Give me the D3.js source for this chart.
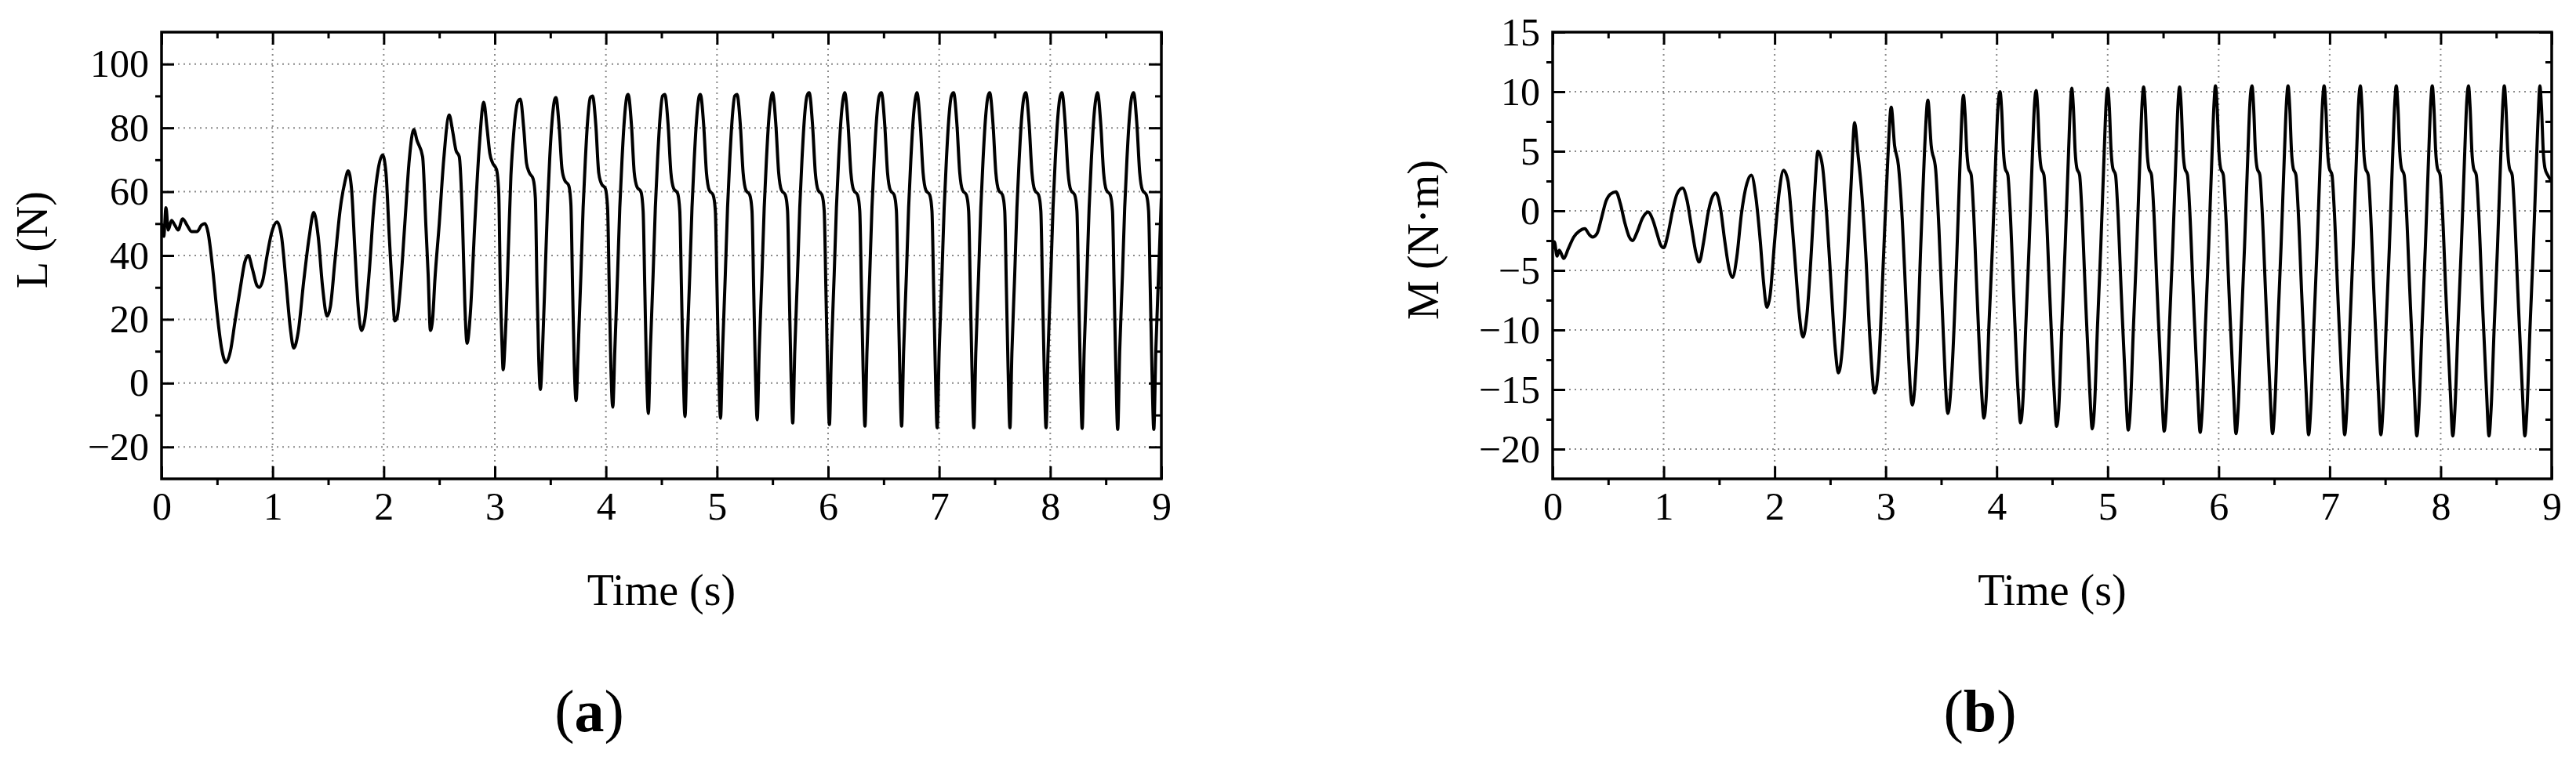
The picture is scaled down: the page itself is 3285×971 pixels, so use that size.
<!DOCTYPE html>
<html>
<head>
<meta charset="utf-8">
<script src="https://cdn.jsdelivr.net/npm/d3@7"></script>
<style>
html, body { margin: 0; padding: 0; background: #fff; }
svg text { font-family: "Liberation Serif", "Times New Roman", serif; fill: #000; }
</style>
</head>
<body>
<div id="figure"></div>
<script>
// axis ticks
var timeTicks = [0, 1, 2, 3, 4, 5, 6, 7, 8, 9];
var timeMinor = [0.5, 1.5, 2.5, 3.5, 4.5, 5.5, 6.5, 7.5, 8.5];
var liftTicks = [-20, 0, 20, 40, 60, 80, 100];
var liftMinor = [-10, 10, 30, 50, 70, 90];
var momentTicks = [-20, -15, -10, -5, 0, 5, 10, 15];
var momentMinor = [-17.5, -12.5, -7.5, -2.5, 2.5, 7.5, 12.5];

// (a) lift L (N) vs time (s)
var liftSeries = [
  [0.00,50],[0.02,46],[0.04,55],[0.06,48],[0.09,51],[0.12,49.5],[0.15,48],[0.19,51.5],[0.23,49.5],[0.27,47.5],
  [0.32,47.5],[0.36,49.5],[0.39,50],[0.42,47],[0.46,36],[0.50,22],[0.54,11],[0.58,6.5],[0.62,10],[0.66,19],
  [0.71,30],[0.75,38],[0.78,40],[0.82,35.5],[0.86,30.5],[0.88,30],[0.91,32],[0.95,40],[0.99,47],[1.04,50.5],
  [1.08,46],[1.12,32],[1.16,17],[1.19,11],[1.23,16],[1.28,32],[1.33,46],[1.37,53.5],[1.41,46],[1.45,30],
  [1.49,21],[1.52,24],[1.56,38],[1.61,55],[1.65,63],[1.68,66.5],[1.71,61],[1.74,42],[1.77,24],[1.80,16.5],
  [1.83,20],[1.87,35],[1.91,55],[1.95,67],[1.99,71.5],[2.02,66],[2.05,46],[2.08,28],[2.10,19.5],[2.12,20.5],
  [2.15,30],[2.19,50],[2.23,70],[2.27,79.5],[2.30,76],[2.35,71],[2.38,49],[2.40,34],[2.42,16.5],[2.44,20],
  [2.46,32],[2.50,50],[2.54,70],[2.59,84],[2.62,79],[2.65,73],[2.68,71],[2.71,50],[2.73,25],[2.75,12.5],
  [2.78,22],[2.82,50],[2.86,74],
  [2.900,88],[2.930,80],[2.955,72],[2.980,69],[3.015,67],[3.035,60],[3.050,30],[3.065,12],[3.075,4.2],[3.095,15],[3.125,45],[3.145,65],[3.165,76],[3.185,84],[3.210,88.5],
  [3.230,89],[3.260,80],[3.285,69],[3.310,66],[3.345,64],[3.365,58],[3.380,30],[3.395,8],[3.410,-2],[3.430,11],[3.455,36],[3.475,56],[3.495,71],[3.515,82],[3.540,89],
  [3.550,89.5],[3.580,80],[3.605,67],[3.630,63.5],[3.665,62],[3.685,56],[3.700,30],[3.715,6],[3.732,-5.5],[3.750,10],[3.775,34],[3.795,55],[3.815,70],[3.835,82],[3.860,89.5],
  [3.880,90],[3.910,80.5],[3.935,66],[3.960,62.5],[3.995,61],[4.015,55],[4.030,30],[4.045,5],[4.062,-7.5],[4.080,10],[4.105,34],[4.125,55],[4.145,70],[4.165,82],[4.190,90],
  [4.200,90.5],[4.230,81],[4.255,66],[4.280,61.5],[4.315,60],[4.335,54],[4.350,30],[4.365,5],[4.382,-9.5],[4.400,10],[4.425,34],[4.445,55],[4.465,70],[4.485,82],[4.510,90],
  [4.530,90.5],[4.560,81],[4.585,66],[4.610,61],[4.645,59.5],[4.665,54],[4.680,30],[4.695,5],[4.712,-10.5],[4.730,10],[4.755,34],[4.775,55],[4.795,70],[4.815,82],[4.840,90],
  [4.850,90.5],[4.880,81],[4.905,66],[4.930,60.5],[4.965,59],[4.985,54],[5.000,30],[5.015,5],[5.032,-11],[5.050,10],[5.075,34],[5.095,55],[5.115,70],[5.135,82],[5.160,90],
  [5.180,90.5],[5.210,81],[5.235,66],[5.260,60.5],[5.295,59],[5.315,54],[5.330,30],[5.345,5],[5.362,-11.5],[5.380,10],[5.405,34],[5.425,55],[5.445,70],[5.465,82],[5.490,90],
  [5.500,91],[5.530,81],[5.555,66],[5.580,60.5],[5.615,59],[5.635,54],[5.650,30],[5.665,5],[5.682,-12.5],[5.700,10],[5.725,34],[5.745,55],[5.765,70],[5.785,82],[5.810,90],
  [5.830,91],[5.860,81],[5.885,66],[5.910,60.5],[5.945,59],[5.965,54],[5.980,30],[5.995,5],[6.012,-13],[6.030,10],[6.055,34],[6.075,55],[6.095,70],[6.115,82],[6.140,90],
  [6.150,91],[6.180,81],[6.205,66],[6.230,60.5],[6.265,59],[6.285,54],[6.300,30],[6.315,5],[6.332,-13.5],[6.350,10],[6.375,34],[6.395,55],[6.415,70],[6.435,82],[6.460,90],
  [6.480,91],[6.510,81],[6.535,66],[6.560,60.5],[6.595,59],[6.615,54],[6.630,30],[6.645,5],[6.662,-13.5],[6.680,10],[6.705,34],[6.725,55],[6.745,70],[6.765,82],[6.790,90],
  [6.800,91],[6.830,81],[6.855,66],[6.880,60.5],[6.915,59],[6.935,54],[6.950,30],[6.965,5],[6.982,-14],[7.000,10],[7.025,34],[7.045,55],[7.065,70],[7.085,82],[7.110,90],
  [7.130,91],[7.160,81],[7.185,66],[7.210,60.5],[7.245,59],[7.265,54],[7.280,30],[7.295,5],[7.312,-14],[7.330,10],[7.355,34],[7.375,55],[7.395,70],[7.415,82],[7.440,90],
  [7.455,91],[7.485,81],[7.510,66],[7.535,60.5],[7.570,59],[7.590,54],[7.605,30],[7.620,5],[7.637,-14],[7.655,10],[7.680,34],[7.700,55],[7.720,70],[7.740,82],[7.765,90],
  [7.780,91],[7.810,81],[7.835,66],[7.860,60.5],[7.895,59],[7.915,54],[7.930,30],[7.945,5],[7.962,-14],[7.980,10],[8.005,34],[8.025,55],[8.045,70],[8.065,82],[8.090,90],
  [8.105,91],[8.135,81],[8.160,66],[8.185,60.5],[8.220,59],[8.240,54],[8.255,30],[8.270,5],[8.287,-14.2],[8.305,10],[8.330,34],[8.350,55],[8.370,70],[8.390,82],[8.415,90],
  [8.425,91],[8.455,81],[8.480,66],[8.505,60.5],[8.540,59],[8.560,54],[8.575,30],[8.590,5],[8.607,-14.5],[8.625,10],[8.650,34],[8.670,55],[8.690,70],[8.710,82],[8.735,90],
  [8.750,91],[8.780,81],[8.805,66],[8.830,60.5],[8.865,59],[8.885,54],[8.900,30],[8.915,5],[8.932,-14.5],[8.950,10],[8.975,34],[9.000,58]
];

// (b) moment M (N·m) vs time (s)
var momentSeries = [
  [0.00,-3.2],[0.015,-2.6],[0.04,-3.8],[0.06,-3.3],[0.10,-4.0],[0.14,-3.2],[0.19,-2.2],[0.24,-1.7],[0.29,-1.5],[0.33,-2.0],
  [0.36,-2.2],[0.40,-1.9],[0.44,-0.6],[0.48,0.8],[0.52,1.4],[0.57,1.6],[0.61,0.6],[0.65,-1.0],[0.69,-2.2],[0.72,-2.5],
  [0.76,-1.8],[0.81,-0.6],[0.86,-0.1],[0.90,-0.7],[0.94,-1.9],[0.97,-2.8],[1.00,-3.1],[1.04,-1.9],[1.08,0.0],[1.12,1.4],
  [1.17,1.9],[1.21,0.9],[1.25,-1.3],[1.29,-3.5],[1.32,-4.3],[1.36,-2.6],[1.40,-0.2],[1.44,1.2],[1.47,1.5],[1.51,0.3],
  [1.55,-2.5],[1.59,-4.9],[1.62,-5.6],[1.66,-3.8],[1.70,-0.3],[1.75,2.3],[1.79,3.0],[1.83,1.2],[1.87,-2.5],[1.90,-6.0],
  [1.93,-8.1],[1.96,-7.0],[2.00,-2.5],[2.04,1.5],[2.08,3.4],[2.12,2.5],[2.15,-0.3],[2.19,-5.0],[2.22,-8.5],[2.255,-10.6],
  [2.29,-8.8],[2.33,-3.5],[2.36,1.5],[2.39,5.0],[2.43,3.8],[2.47,-0.5],[2.51,-6.5],[2.545,-11.5],[2.575,-13.6],[2.61,-11.5],
  [2.65,-5.0],[2.69,2.5],[2.72,7.4],[2.75,4.8],[2.78,2.0],[2.82,-3.5],[2.86,-11.0],[2.90,-15.3],[2.94,-12.5],[2.98,-4.0],
  [3.02,4.5],[3.05,8.7],[3.08,5.5],[3.115,3.8],[3.15,-0.8],[3.19,-9.0],[3.24,-16.3],[3.28,-12.0],[3.32,-2.0],[3.35,5.0],
  [3.38,9.3],[3.41,5.5],[3.45,3.5],[3.48,-1.5],[3.52,-10.5],[3.56,-17.0],[3.60,-13.0],[3.64,-4.0],[3.67,4.0],
  [3.700,9.7],[3.715,8.2],[3.731,5.0],[3.746,3.6],[3.771,3.0],[3.790,0.3],[3.823,-7],[3.863,-15],[3.885,-17.4],[3.905,-15.8],[3.931,-9.5],[3.962,-3],[3.993,4.8],[4.010,8.5],
  [4.030,10.0],[4.045,8.5],[4.061,5.0],[4.076,3.6],[4.101,3.0],[4.120,0.3],[4.153,-7],[4.193,-15.2],[4.215,-17.8],[4.235,-16.2],[4.261,-10],[4.292,-3],[4.323,5],[4.340,8.8],
  [4.355,10.1],[4.370,8.6],[4.386,5.0],[4.401,3.6],[4.426,3.0],[4.445,0.3],[4.478,-7],[4.518,-15.2],[4.540,-18.1],[4.560,-16.5],[4.586,-10],[4.617,-3],[4.648,5],[4.665,9],
  [4.676,10.3],[4.691,8.7],[4.707,5.0],[4.722,3.6],[4.747,3.0],[4.766,0.3],[4.799,-7],[4.839,-15.2],[4.861,-18.3],[4.881,-16.5],[4.907,-10],[4.938,-3],[4.969,5],[4.986,9],
  [5.000,10.3],[5.015,8.7],[5.031,5.0],[5.046,3.6],[5.071,3.0],[5.090,0.3],[5.123,-7],[5.163,-15.2],[5.185,-18.4],[5.205,-16.5],[5.231,-10],[5.262,-3],[5.293,5],[5.310,9],
  [5.324,10.4],[5.339,8.7],[5.355,5.0],[5.370,3.6],[5.395,3.0],[5.414,0.3],[5.447,-7],[5.487,-15.2],[5.509,-18.5],[5.529,-16.5],[5.555,-10],[5.586,-3],[5.617,5],[5.634,9],
  [5.648,10.4],[5.663,8.7],[5.679,5.0],[5.694,3.6],[5.719,3.0],[5.738,0.3],[5.771,-7],[5.811,-15.2],[5.833,-18.6],[5.853,-16.5],[5.879,-10],[5.910,-3],[5.941,5],[5.958,9],
  [5.971,10.5],[5.986,8.7],[6.002,5.0],[6.017,3.6],[6.042,3.0],[6.061,0.3],[6.094,-7],[6.134,-15.2],[6.156,-18.7],[6.176,-16.5],[6.202,-10],[6.233,-3],[6.264,5],[6.281,9],
  [6.300,10.5],[6.315,8.7],[6.331,5.0],[6.346,3.6],[6.371,3.0],[6.390,0.3],[6.423,-7],[6.463,-15.2],[6.485,-18.7],[6.505,-16.5],[6.531,-10],[6.562,-3],[6.593,5],[6.610,9],
  [6.625,10.5],[6.640,8.7],[6.656,5.0],[6.671,3.6],[6.696,3.0],[6.715,0.3],[6.748,-7],[6.788,-15.2],[6.810,-18.8],[6.830,-16.5],[6.856,-10],[6.887,-3],[6.918,5],[6.935,9],
  [6.950,10.5],[6.965,8.7],[6.981,5.0],[6.996,3.6],[7.021,3.0],[7.040,0.3],[7.073,-7],[7.113,-15.2],[7.135,-18.8],[7.155,-16.5],[7.181,-10],[7.212,-3],[7.243,5],[7.260,9],
  [7.276,10.5],[7.291,8.7],[7.307,5.0],[7.322,3.6],[7.347,3.0],[7.366,0.3],[7.399,-7],[7.439,-15.2],[7.461,-18.8],[7.481,-16.5],[7.507,-10],[7.538,-3],[7.569,5],[7.586,9],
  [7.600,10.5],[7.615,8.7],[7.631,5.0],[7.646,3.6],[7.671,3.0],[7.690,0.3],[7.723,-7],[7.763,-15.2],[7.785,-18.9],[7.805,-16.5],[7.831,-10],[7.862,-3],[7.893,5],[7.910,9],
  [7.924,10.5],[7.939,8.7],[7.955,5.0],[7.970,3.6],[7.995,3.0],[8.014,0.3],[8.047,-7],[8.087,-15.2],[8.109,-18.9],[8.129,-16.5],[8.155,-10],[8.186,-3],[8.217,5],[8.234,9],
  [8.250,10.5],[8.265,8.7],[8.281,5.0],[8.296,3.6],[8.321,3.0],[8.340,0.3],[8.373,-7],[8.413,-15.2],[8.435,-18.9],[8.455,-16.5],[8.481,-10],[8.512,-3],[8.543,5],[8.560,9],
  [8.573,10.5],[8.588,8.7],[8.604,5.0],[8.619,3.6],[8.644,3.0],[8.663,0.3],[8.696,-7],[8.736,-15.2],[8.758,-18.9],[8.778,-16.5],[8.804,-10],[8.835,-3],[8.866,5],[8.883,9],
  [8.893,10.5],[8.908,8.7],[8.924,5.0],[8.939,3.6],[8.964,3.0],[9.000,2.5]
];

var width = 3285;
var height = 971;
var plotTop = 41;
var plotBottom = 611;

var svg = d3.select('#figure')
    .append('svg')
    .attr('width', width)
    .attr('height', height);

svg.append('rect')
    .attr('width', width)
    .attr('height', height)
    .attr('fill', '#fff');

function drawPanel(opts) {
    var x = d3.scaleLinear().domain([0, 9]).range([opts.left, opts.right]);
    var y = d3.scaleLinear().domain(opts.yDomain).range([plotBottom, plotTop]);
    var g = svg.append('g');

    // dotted grid at the major ticks
    g.selectAll('line.vgrid')
        .data(timeTicks.filter(function(t){ return t > 0 && t < 9; }))
        .enter().append('line')
        .attr('x1', function(t){ return x(t); }).attr('x2', function(t){ return x(t); })
        .attr('y1', plotTop).attr('y2', plotBottom)
        .attr('stroke', '#8a8a8a').attr('stroke-width', 2)
        .attr('stroke-dasharray', '2,5');

    g.selectAll('line.hgrid')
        .data(opts.yTicks.filter(function(v){ return v > opts.yDomain[0] && v < opts.yDomain[1]; }))
        .enter().append('line')
        .attr('x1', opts.left).attr('x2', opts.right)
        .attr('y1', function(v){ return y(v); }).attr('y2', function(v){ return y(v); })
        .attr('stroke', '#8a8a8a').attr('stroke-width', 2)
        .attr('stroke-dasharray', '2,5');

    // signal
    var clipId = 'clip-' + opts.id;
    svg.append('clipPath').attr('id', clipId)
        .append('rect')
        .attr('x', opts.left).attr('y', plotTop)
        .attr('width', opts.right - opts.left).attr('height', plotBottom - plotTop);

    var line = d3.line()
        .x(function(d){ return x(d[0]); })
        .y(function(d){ return y(d[1]); })
        .curve(d3.curveMonotoneX);

    g.append('path')
        .datum(opts.series)
        .attr('clip-path', 'url(#' + clipId + ')')
        .attr('fill', 'none')
        .attr('stroke', '#000')
        .attr('stroke-width', 4)
        .attr('stroke-linejoin', 'round')
        .attr('d', line);

    // axes: major ticks point inward, minor ticks out on bottom/left, in on top/right
    function styleAxis(sel) {
        sel.select('.domain').remove();
        sel.selectAll('.tick line').attr('stroke', '#000').attr('stroke-width', 3);
        sel.attr('font-family', '"Liberation Serif", "Times New Roman", serif')
            .attr('font-size', 50);
        sel.selectAll('.tick text').attr('fill', '#000');
    }

    g.append('g').attr('transform', 'translate(0,' + plotBottom + ')')
        .call(d3.axisBottom(x).tickValues(timeTicks).tickSize(-16).tickPadding(16).tickFormat(d3.format('d')))
        .call(styleAxis);
    g.append('g').attr('transform', 'translate(0,' + plotBottom + ')')
        .call(d3.axisBottom(x).tickValues(timeMinor).tickSize(8).tickFormat(''))
        .call(styleAxis);
    g.append('g').attr('transform', 'translate(0,' + plotTop + ')')
        .call(d3.axisTop(x).tickValues(timeTicks).tickSize(-16).tickFormat(''))
        .call(styleAxis);
    g.append('g').attr('transform', 'translate(0,' + plotTop + ')')
        .call(d3.axisTop(x).tickValues(timeMinor).tickSize(-8).tickFormat(''))
        .call(styleAxis);

    g.append('g').attr('transform', 'translate(' + opts.left + ',0)')
        .call(d3.axisLeft(y).tickValues(opts.yTicks).tickSize(-16).tickPadding(16).tickFormat(d3.format('d')))
        .call(styleAxis);
    g.append('g').attr('transform', 'translate(' + opts.left + ',0)')
        .call(d3.axisLeft(y).tickValues(opts.yMinor).tickSize(8).tickFormat(''))
        .call(styleAxis);
    g.append('g').attr('transform', 'translate(' + opts.right + ',0)')
        .call(d3.axisRight(y).tickValues(opts.yTicks).tickSize(-16).tickFormat(''))
        .call(styleAxis);
    g.append('g').attr('transform', 'translate(' + opts.right + ',0)')
        .call(d3.axisRight(y).tickValues(opts.yMinor).tickSize(-8).tickFormat(''))
        .call(styleAxis);

    // frame
    g.append('rect')
        .attr('x', opts.left).attr('y', plotTop)
        .attr('width', opts.right - opts.left).attr('height', plotBottom - plotTop)
        .attr('fill', 'none').attr('stroke', '#000').attr('stroke-width', 3.5);

    // axis titles
    var midX = (opts.left + opts.right) / 2;
    g.append('text')
        .attr('x', midX).attr('y', 772)
        .attr('text-anchor', 'middle')
        .style('font-size', '56px')
        .text('Time (s)');

    g.append('text')
        .attr('transform', 'translate(' + (opts.left - 146) + ',306) rotate(-90)')
        .attr('text-anchor', 'middle')
        .style('font-size', '56px')
        .text(opts.yLabel);

    // panel letter
    var letter = g.append('text')
        .attr('x', midX - 92).attr('y', 933)
        .attr('text-anchor', 'middle')
        .style('font-size', '76px');
    letter.append('tspan').text('(');
    letter.append('tspan').attr('font-weight', 'bold').text(opts.letter);
    letter.append('tspan').text(')');
}

drawPanel({
    id: 'a', left: 206, right: 1481,
    yDomain: [-30, 110], yTicks: liftTicks, yMinor: liftMinor,
    series: liftSeries, yLabel: 'L (N)', letter: 'a'
});

drawPanel({
    id: 'b', left: 1980, right: 3254,
    yDomain: [-22.5, 15], yTicks: momentTicks, yMinor: momentMinor,
    series: momentSeries, yLabel: 'M (N·m)', letter: 'b'
});
</script>
</body>
</html>
